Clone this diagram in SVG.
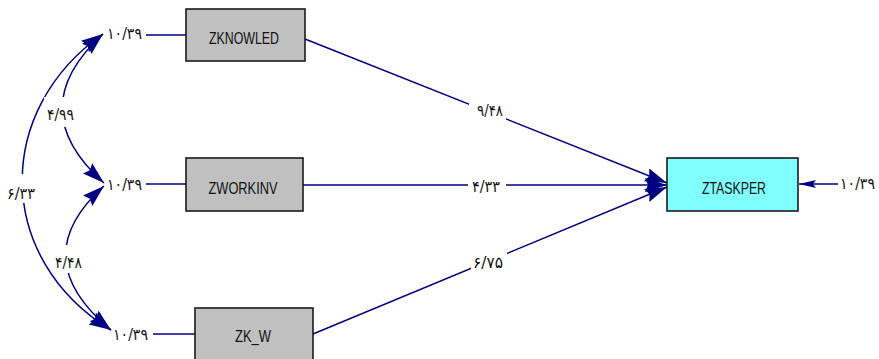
<svg xmlns="http://www.w3.org/2000/svg" width="879" height="359" viewBox="0 0 879 359">
<style>
.box{stroke:#1a1a1a;stroke-width:1.6}
.obs{fill:#c0c0c0}
.lat{fill:#80ffff}
.name{font-family:"Liberation Sans",Arial,sans-serif;font-size:16.5px;fill:#111;text-anchor:middle}
.lbl{font-family:"DejaVu Sans","Noto Sans",sans-serif;font-size:16px;fill:#111}
.ln{fill:none;stroke:#000080;stroke-width:1.5}
.bg{fill:#fff}
</style>
<defs>
<marker id="ah" markerUnits="userSpaceOnUse" markerWidth="24" markerHeight="14" refX="22" refY="7" orient="auto-start-reverse">
<path d="M0,0 L22,7 L0,14 L3,7 z" fill="#000080"/>
</marker>
<marker id="ahs" markerUnits="userSpaceOnUse" markerWidth="18" markerHeight="9" refX="17" refY="4" orient="auto">
<path d="M0,0 L17,4 L0,8 L3,4 z" fill="#000080"/>
</marker>
</defs>
<g id="connectors">
<path class="ln" d="M103,34 C-6,110 -6,258 111,330" marker-start="url(#ah)" marker-end="url(#ah)"/>
<path class="ln" d="M103,34 Q21,109 104,183" marker-start="url(#ah)" marker-end="url(#ah)"/>
<path class="ln" d="M104,186 Q24,258 111,330" marker-start="url(#ah)" marker-end="url(#ah)"/>
<line class="ln" x1="146" y1="35" x2="186" y2="35"/>
<line class="ln" x1="146" y1="184" x2="186" y2="184"/>
<line class="ln" x1="153" y1="334" x2="195" y2="334"/>
<line class="ln" x1="305" y1="39" x2="667" y2="183" marker-end="url(#ah)"/>
<line class="ln" x1="303" y1="185" x2="667" y2="185" marker-end="url(#ah)"/>
<line class="ln" x1="313" y1="334" x2="667" y2="187" marker-end="url(#ah)"/>
<line class="ln" x1="838" y1="184" x2="799" y2="184" marker-end="url(#ahs)"/>
<rect class="bg" x="4" y="174" width="34" height="29"/>
<rect class="bg" x="44" y="97" width="33" height="30"/>
<rect class="bg" x="52" y="245" width="33" height="28"/>
<rect class="bg" x="469" y="103" width="37" height="18"/>
<rect class="bg" x="468" y="177" width="38" height="17"/>
<rect class="bg" x="471" y="252" width="36" height="20"/>
<text class="lbl" x="107" y="39" textLength="35" lengthAdjust="spacingAndGlyphs">۱۰/۳۹</text>
<text class="lbl" x="107" y="190" textLength="35" lengthAdjust="spacingAndGlyphs">۱۰/۳۹</text>
<text class="lbl" x="113" y="340" textLength="35" lengthAdjust="spacingAndGlyphs">۱۰/۳۹</text>
<text class="lbl" x="840" y="189" textLength="35" lengthAdjust="spacingAndGlyphs">۱۰/۳۹</text>
<text class="lbl" x="47" y="120" textLength="27" lengthAdjust="spacingAndGlyphs">۴/۹۹</text>
<text class="lbl" x="7" y="199" textLength="28" lengthAdjust="spacingAndGlyphs">۶/۳۳</text>
<text class="lbl" x="55" y="268" textLength="27" lengthAdjust="spacingAndGlyphs">۴/۴۸</text>
<text class="lbl" x="477" y="116" textLength="26" lengthAdjust="spacingAndGlyphs">۹/۴۸</text>
<text class="lbl" x="472" y="192" textLength="28" lengthAdjust="spacingAndGlyphs">۴/۳۳</text>
<text class="lbl" x="473" y="268" textLength="30" lengthAdjust="spacingAndGlyphs">۶/۷۵</text>
</g>
<g id="ZKNOWLED">
<rect class="box obs" x="186" y="9" width="119" height="52"/>
<text class="name" x="244" y="44" textLength="70" lengthAdjust="spacingAndGlyphs">ZKNOWLED</text>
</g>
<g id="ZWORKINV">
<rect class="box obs" x="186" y="158" width="117" height="53"/>
<text class="name" x="243" y="194" textLength="69" lengthAdjust="spacingAndGlyphs">ZWORKINV</text>
</g>
<g id="ZK_W">
<rect class="box obs" x="195" y="308" width="118" height="60"/>
<text class="name" x="253" y="342" textLength="36" lengthAdjust="spacingAndGlyphs">ZK_W</text>
</g>
<g id="ZTASKPER">
<rect class="box lat" x="667" y="158" width="131" height="53"/>
<text class="name" x="734" y="194" textLength="64" lengthAdjust="spacingAndGlyphs">ZTASKPER</text>
</g>
</svg>
